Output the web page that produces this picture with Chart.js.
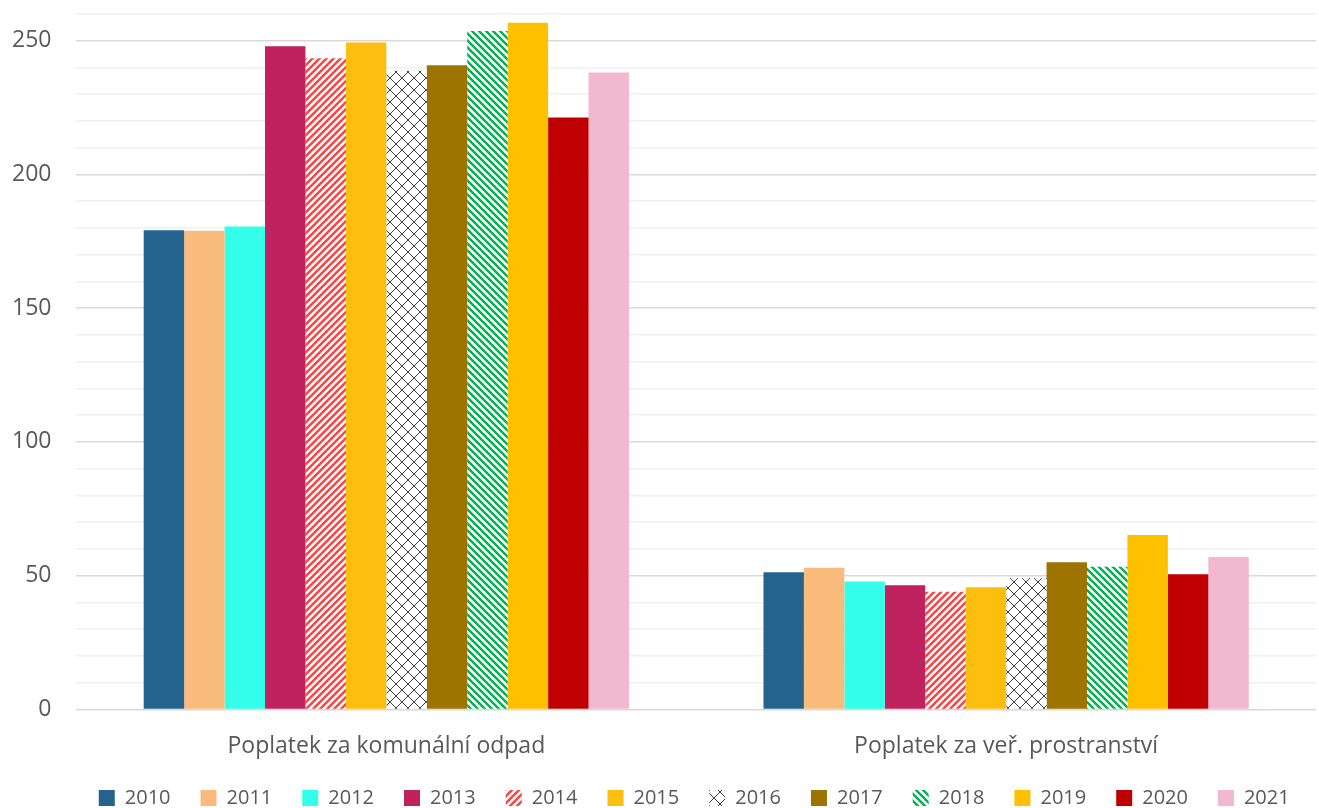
<!DOCTYPE html>
<html lang="cs">
<head>
    <meta charset="UTF-8" />
    <title>Poplatky</title>
    <script src="https://cdn.jsdelivr.net/npm/chart.js"></script>
    <style>
        html, body { margin: 0; padding: 0; background: #fff; }
        #wrap { width: 1319px; height: 808px; }
    </style>
</head>
<body>
    <div id="wrap"><canvas id="graf"></canvas></div>

    <script>
        const kategorie = ['Poplatek za komunální odpad', 'Poplatek za veř. prostranství'];
        const roky = ['2010', '2011', '2012', '2013', '2014', '2015', '2016', '2017', '2018', '2019', '2020', '2021'];
        const odpad = [179.1, 178.9, 180.5, 247.9, 243.4, 249.3, 238.7, 240.8, 253.6, 256.7, 221.2, 238.1];
        const prostranstvi = [51.3, 52.9, 47.8, 46.4, 44.0, 45.7, 49.0, 55.0, 53.3, 65.2, 50.5, 57.0];
        const barvy = ['#25638f', '#f9bb7b', '#33ffea', '#c0215f', 'pruhy-cervene', '#fdbf0f',
                       'mriz', '#9e7400', 'pruhy-zelene', '#ffc000', '#c00000', '#f2b8d0'];

        // vzory pro 2014, 2016, 2018
        function pruhy(barva, smer) {
            const s = 7;
            const c = document.createElement('canvas');
            c.width = s; c.height = s;
            const g = c.getContext('2d');
            g.fillStyle = '#fff';
            g.fillRect(0, 0, s, s);
            g.strokeStyle = barva;
            g.lineWidth = 2.4;
            g.beginPath();
            if (smer === '/') {
                g.moveTo(0, s); g.lineTo(s, 0);
                g.moveTo(-1, 1); g.lineTo(1, -1);
                g.moveTo(s - 1, s + 1); g.lineTo(s + 1, s - 1);
            } else {
                g.moveTo(0, 0); g.lineTo(s, s);
                g.moveTo(-1, s - 1); g.lineTo(1, s + 1);
                g.moveTo(s - 1, -1); g.lineTo(s + 1, 1);
            }
            g.stroke();
            return g.createPattern(c, 'repeat');
        }

        function mriz() {
            const s = 12;
            const c = document.createElement('canvas');
            c.width = s; c.height = s;
            const g = c.getContext('2d');
            g.fillStyle = '#fff';
            g.fillRect(0, 0, s, s);
            g.fillStyle = '#404040';
            for (let i = 0; i < s; i++) {
                g.fillRect(i, i, 1, 1);
                g.fillRect(s - 1 - i, i, 1, 1);
            }
            return g.createPattern(c, 'repeat');
        }

        function vypln(b) {
            if (b === 'pruhy-cervene') return pruhy('#ff4141', '/');
            if (b === 'pruhy-zelene') return pruhy('#00b050', '\\');
            if (b === 'mriz') return mriz();
            return b;
        }

        const datasets = roky.map((rok, i) => ({
            label: rok,
            data: [odpad[i], prostranstvi[i]],
            backgroundColor: vypln(barvy[i]),
            borderWidth: 0,
            categoryPercentage: 0.783,
            barPercentage: 1
        }));

        const text = '#595959';
        const pismo = '"Open Sans", sans-serif';

        // legenda je v originale centrovana na oblast grafu
        const posunLegendy = {
            id: 'posunLegendy',
            afterLayout(chart) {
                const l = chart.legend;
                const dx = (chart.chartArea.left + chart.chartArea.right) / 2 - (l.left + l.right) / 2 - 2;
                l.left += dx; l.right += dx;
                l.top -= 17; l.bottom -= 17;
            }
        };

        new Chart(document.getElementById('graf'), {
            type: 'bar',
            data: { labels: kategorie, datasets },
            plugins: [posunLegendy],
            options: {
                responsive: true,
                maintainAspectRatio: false,
                animation: false,
                layout: { padding: { top: 0, right: 3, left: 12, bottom: -27 } },
                plugins: {
                    tooltip: { enabled: false },
                    legend: {
                        position: 'bottom',
                        labels: {
                            boxWidth: 16,
                            boxHeight: 16,
                            padding: 30,
                            color: text,
                            font: { size: 20, family: pismo }
                        }
                    }
                },
                scales: {
                    x: {
                        grid: { display: false },
                        border: { display: false },
                        ticks: { color: text, padding: 15, font: { size: 23, family: pismo } }
                    },
                    y: {
                        min: 0,
                        max: 260,
                        border: { display: false },
                        grid: {
                            drawTicks: true,
                            tickLength: 25,
                            tickColor: 'rgba(0,0,0,0)',
                            color: ctx => ctx.tick && ctx.tick.value % 50 === 0 ? '#d9d9d9' : '#f0f0f0',
                            lineWidth: 1.5
                        },
                        ticks: {
                            stepSize: 10,
                            autoSkip: false,
                            padding: 0,
                            color: text,
                            font: { size: 23, family: pismo },
                            callback: v => v % 50 === 0 ? v : ''
                        }
                    }
                }
            }
        });
    </script>
</body>
</html>
